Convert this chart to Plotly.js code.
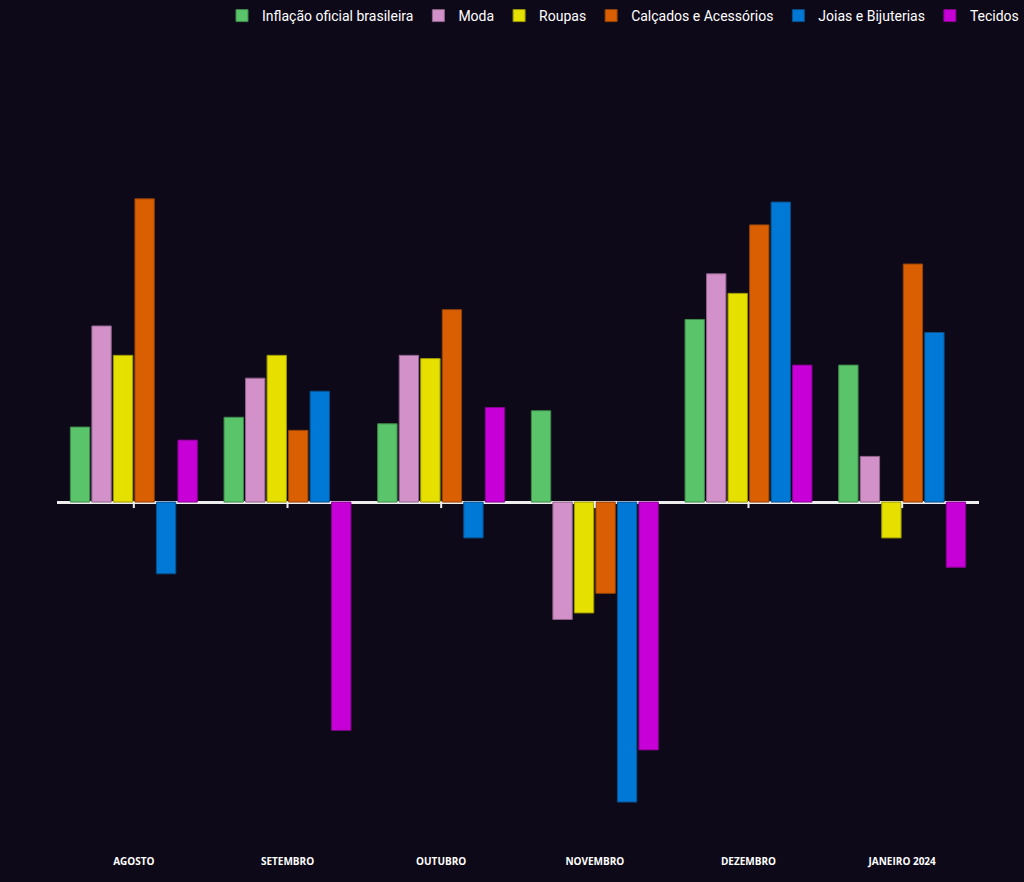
<!DOCTYPE html>
<html>
<head>
<meta charset="utf-8">
<script src="https://cdn.plot.ly/plotly-3.0.1.min.js"></script>
<style>html,body{margin:0;padding:0;background:#0e0918;}</style>
</head>
<body>
<div id="chart" style="width:1024px;height:882px;"></div>
<script>
const months = ["AGOSTO", "SETEMBRO", "OUTUBRO", "NOVEMBRO", "DEZEMBRO", "JANEIRO 2024"];
const inflacao = [0.23, 0.26, 0.24, 0.28, 0.56, 0.42];
const moda = [0.54, 0.38, 0.45, -0.36, 0.70, 0.14];
const roupas = [0.45, 0.45, 0.44, -0.34, 0.64, -0.11];
const calcados = [0.93, 0.22, 0.59, -0.28, 0.85, 0.73];
const joias = [-0.22, 0.34, -0.11, -0.92, 0.92, 0.52];
const tecidos = [0.19, -0.70, 0.29, -0.76, 0.42, -0.20];

const seriesNames = ["Inflação oficial brasileira", "Moda", "Roupas", "Calçados e Acessórios", "Joias e Bijuterias", "Tecidos"];
const seriesValues = [inflacao, moda, roupas, calcados, joias, tecidos];
const seriesColors = ["#59c46a", "#d291c8", "#e6e000", "#d95f02", "#0079d6", "#c800d8"];
const lineColors = ["#3f8a4b", "#8f638a", "#9c9800", "#93420a", "#0b4f88", "#86048f"];

const traces = seriesNames.map((n, i) => ({
  type: "bar",
  name: n,
  x: months,
  y: seriesValues[i],
  marker: {color: seriesColors[i], line: {color: lineColors[i], width: 1}},
  hoverinfo: "x+y+name"
}));

const tickShapes = months.map(m => ({
  type: "line", xref: "x", yref: "y",
  ysizemode: "pixel", yanchor: 0,
  x0: m, x1: m, y0: 0, y1: -6,
  line: {color: "#eeeeee", width: 2}
}));

const layout = {
  width: 1024, height: 882,
  paper_bgcolor: "#0e0918",
  plot_bgcolor: "#0e0918",
  margin: {l: 57, r: 45, t: 40, b: 32},
  barmode: "group",
  bargap: 0.16,
  bargroupgap: 0.1,
  showlegend: true,
  legend: {
    orientation: "h", x: 1, xanchor: "right", xref: "container",
    y: 1, yanchor: "top", yref: "container",
    font: {family: "Roboto, sans-serif", size: 14, color: "#ffffff"},
    bgcolor: "rgba(0,0,0,0)", traceorder: "normal",
    itemwidth: 30
  },
  xaxis: {
    type: "category",
    showgrid: false, showline: false, zeroline: false, ticks: "",
    tickfont: {family: "Open Sans, sans-serif", size: 10, color: "#ffffff", weight: "bold"},
    ticklabelstandoff: 4
  },
  yaxis: {
    range: [-1.067, 1.417],
    showgrid: false, showline: false, showticklabels: false, ticks: "",
    zeroline: true, zerolinecolor: "#eeeeee", zerolinewidth: 3
  },
  shapes: tickShapes
};

Plotly.newPlot("chart", traces, layout, {displayModeBar: false, responsive: false});
</script>
</body>
</html>
